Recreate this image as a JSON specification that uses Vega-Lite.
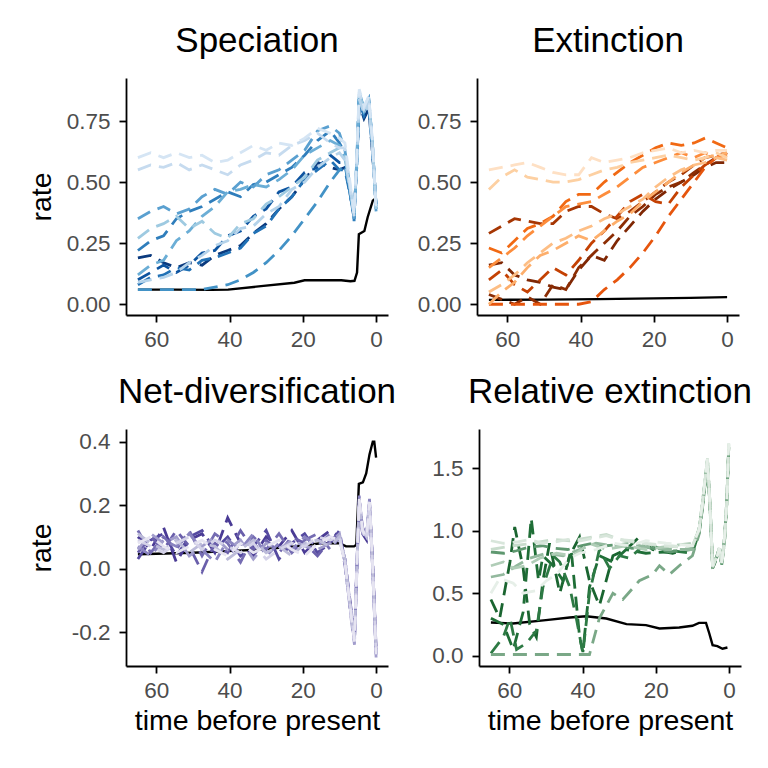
{
"$schema":"https://vega.github.io/schema/vega-lite/v6.json",
"padding":{"left":27,"top":24,"right":5,"bottom":5},
"background":"white",
"config":{
"font":"Liberation Sans",
"view":{"stroke":null},
"axis":{"grid":false,"domainColor":"black","domainWidth":1.8,"tickColor":"black","tickWidth":1.8,"tickSize":7,"labelColor":"#4d4d4d","labelFontSize":22.5,"titleFontSize":28.5,"titleFontWeight":"normal","titleColor":"black"},
"axisX":{"labelPadding":6,"titlePadding":5},
"axisY":{"labelPadding":9,"titlePadding":9.5,"minExtent":60},
"title":{"fontSize":35,"fontWeight":"normal","color":"black","offset":19,"anchor":"middle"}
},
"resolve":{"scale":{"color":"independent"}},
"vconcat":[
{"resolve":{"scale":{"color":"independent"}},"hconcat":[
{"title":"Speciation","width":262,"height":237,"data":{"name":"sp"},
"encoding":{"x":{"field":"t","type":"quantitative","scale":{"domain":[-3.25,68.25],"reverse":true,"nice":false,"zero":false},"axis":{"values":[0,20,40,60],"title":null}},
"y":{"field":"v","type":"quantitative","scale":{"domain":[-0.044,0.926],"nice":false,"zero":false},"axis":{"values":[0,0.25,0.5,0.75],"format":".2f","title":"rate"}}},
"layer":[
{"transform":[{"filter":"datum.s == 0"}],"mark":{"type":"line","color":"black","strokeWidth":2.4},"encoding":{}},
{"transform":[{"filter":"datum.s > 0"}],"mark":{"type":"line","strokeWidth":2.8,"strokeDash":[14,8]},"encoding":{"color":{"field":"s","type":"nominal","legend":null,"scale":{"domain":[1,2,3,4,5,6,7,8,9,10,11],"range":["#0b3a7e","#0d54a0","#2171b5","#2f7ebc","#4292c6","#5aa0d0","#6baed6","#9ecae1","#b5d3ea","#c6dbef","#d5e5f4"]}}}}
]},
{"title":"Extinction","width":262,"height":237,"data":{"name":"ex"},
"encoding":{"x":{"field":"t","type":"quantitative","scale":{"domain":[-3.25,68.25],"reverse":true,"nice":false,"zero":false},"axis":{"values":[0,20,40,60],"title":null}},
"y":{"field":"v","type":"quantitative","scale":{"domain":[-0.044,0.926],"nice":false,"zero":false},"axis":{"values":[0,0.25,0.5,0.75],"format":".2f","title":null}}},
"layer":[
{"transform":[{"filter":"datum.s == 0"}],"mark":{"type":"line","color":"black","strokeWidth":2.4},"encoding":{}},
{"transform":[{"filter":"datum.s > 0"}],"mark":{"type":"line","strokeWidth":2.8,"strokeDash":[14,8]},"encoding":{"color":{"field":"s","type":"nominal","legend":null,"scale":{"domain":[1,2,3,4,5,6,7,8,9,10,11],"range":["#7f2704","#8c2d04","#a63603","#c44103","#e6550d","#f16913","#fd8d3c","#fdae6b","#fdbe85","#fdd0a2","#fee0c4"]}}}}
]}
],"spacing":29},
{"resolve":{"scale":{"color":"independent"}},"hconcat":[
{"title":"Net-diversification","width":262,"height":237,"data":{"name":"nd"},
"encoding":{"x":{"field":"t","type":"quantitative","scale":{"domain":[-3.25,68.25],"reverse":true,"nice":false,"zero":false},"axis":{"values":[0,20,40,60],"title":"time before present"}},
"y":{"field":"v","type":"quantitative","scale":{"domain":[-0.307,0.44],"nice":false,"zero":false},"axis":{"values":[-0.2,0,0.2,0.4],"labelExpr":"datum.value < 0 ? '-' + format(abs(datum.value), '.1f') : format(datum.value, '.1f')","title":"rate"}}},
"layer":[
{"transform":[{"filter":"datum.s == 0"}],"mark":{"type":"line","color":"black","strokeWidth":2.4},"encoding":{}},
{"transform":[{"filter":"datum.s > 0"}],"mark":{"type":"line","strokeWidth":2.8,"strokeDash":[14,8]},"encoding":{"color":{"field":"s","type":"nominal","legend":null,"scale":{"domain":[1,2,3,4,5,6,7,8,9],"range":["#4a3b95","#554aa0","#6a5fab","#756cb2","#8a84c0","#a29dcc","#bcbbd9","#d4d2e8","#e6e4f1"]}}}}
]},
{"title":"Relative extinction","width":262,"height":237,"data":{"name":"re"},
"encoding":{"x":{"field":"t","type":"quantitative","scale":{"domain":[-3.25,68.25],"reverse":true,"nice":false,"zero":false},"axis":{"values":[0,20,40,60],"title":"time before present"}},
"y":{"field":"v","type":"quantitative","scale":{"domain":[-0.082,1.814],"nice":false,"zero":false},"axis":{"values":[0,0.5,1,1.5],"format":".1f","title":null}}},
"layer":[
{"transform":[{"filter":"datum.s == 0"}],"mark":{"type":"line","color":"black","strokeWidth":2.4},"encoding":{}},
{"transform":[{"filter":"datum.s > 0"}],"mark":{"type":"line","strokeWidth":2.8,"strokeDash":[14,8]},"encoding":{"color":{"field":"s","type":"nominal","legend":null,"scale":{"domain":[1,2,3,4,5,6,7,8,9,10],"range":["#1a6530","#1f6e37","#2d7a44","#5f9870","#7aa887","#93b99e","#b0cdb7","#c8dccc","#d8e6db","#e6efe8"]}}}}
]}
],"spacing":22}
],
"spacing":24,
"datasets":{
"sp":[
{"s":0,"t":65,"v":0.06},{"s":0,"t":55,"v":0.06},{"s":0,"t":45,"v":0.059},{"s":0,"t":40.4,"v":0.06},{"s":0,"t":31.4,"v":0.074},{"s":0,"t":22.3,"v":0.088},{"s":0,"t":19.5,"v":0.098},{"s":0,"t":9.5,"v":0.098},{"s":0,"t":7,"v":0.094},{"s":0,"t":5.9,"v":0.096},{"s":0,"t":5.2,"v":0.13},{"s":0,"t":4.7,"v":0.287},{"s":0,"t":3.2,"v":0.3},{"s":0,"t":2.3,"v":0.356},{"s":0,"t":0.9,"v":0.424},{"s":0,"t":0.4,"v":0.43},
{"s":1,"t":65,"v":0.19},{"s":1,"t":61.5,"v":0.2},{"s":1,"t":58,"v":0.17},{"s":1,"t":54.5,"v":0.15},{"s":1,"t":51,"v":0.17},{"s":1,"t":47.5,"v":0.16},{"s":1,"t":44,"v":0.2},{"s":1,"t":40.5,"v":0.22},{"s":1,"t":37,"v":0.24},{"s":1,"t":33.5,"v":0.29},{"s":1,"t":30,"v":0.33},{"s":1,"t":26.5,"v":0.39},{"s":1,"t":23,"v":0.44},{"s":1,"t":19.5,"v":0.51},{"s":1,"t":16,"v":0.58},{"s":1,"t":12.5,"v":0.56},{"s":1,"t":10,"v":0.55},{"s":1,"t":8.5,"v":0.56},{"s":1,"t":6,"v":0.38},{"s":1,"t":5.2,"v":0.58},{"s":1,"t":4.6,"v":0.82},{"s":1,"t":3.3,"v":0.76},{"s":1,"t":2,"v":0.8},{"s":1,"t":1,"v":0.62},{"s":1,"t":0,"v":0.42},
{"s":2,"t":65,"v":0.1},{"s":2,"t":61.5,"v":0.13},{"s":2,"t":58,"v":0.16},{"s":2,"t":54.5,"v":0.13},{"s":2,"t":51,"v":0.16},{"s":2,"t":47.5,"v":0.21},{"s":2,"t":44,"v":0.22},{"s":2,"t":40.5,"v":0.28},{"s":2,"t":37,"v":0.3},{"s":2,"t":33.5,"v":0.36},{"s":2,"t":30,"v":0.39},{"s":2,"t":26.5,"v":0.46},{"s":2,"t":23,"v":0.48},{"s":2,"t":19.5,"v":0.54},{"s":2,"t":16,"v":0.56},{"s":2,"t":12.5,"v":0.61},{"s":2,"t":10,"v":0.58},{"s":2,"t":8.5,"v":0.58},{"s":2,"t":6,"v":0.35},{"s":2,"t":5.2,"v":0.6},{"s":2,"t":4.6,"v":0.84},{"s":2,"t":3.3,"v":0.78},{"s":2,"t":2,"v":0.82},{"s":2,"t":1,"v":0.64},{"s":2,"t":0,"v":0.4},
{"s":3,"t":65,"v":0.08},{"s":3,"t":61.5,"v":0.11},{"s":3,"t":58,"v":0.12},{"s":3,"t":54.5,"v":0.15},{"s":3,"t":51,"v":0.14},{"s":3,"t":47.5,"v":0.18},{"s":3,"t":44,"v":0.19},{"s":3,"t":40.5,"v":0.21},{"s":3,"t":37,"v":0.23},{"s":3,"t":33.5,"v":0.29},{"s":3,"t":30,"v":0.32},{"s":3,"t":26.5,"v":0.39},{"s":3,"t":23,"v":0.44},{"s":3,"t":19.5,"v":0.51},{"s":3,"t":16,"v":0.55},{"s":3,"t":12.5,"v":0.59},{"s":3,"t":10,"v":0.55},{"s":3,"t":8.5,"v":0.55},{"s":3,"t":6,"v":0.37},{"s":3,"t":5.2,"v":0.59},{"s":3,"t":4.6,"v":0.83},{"s":3,"t":3.3,"v":0.77},{"s":3,"t":2,"v":0.81},{"s":3,"t":1,"v":0.63},{"s":3,"t":0,"v":0.41},
{"s":4,"t":65,"v":0.22},{"s":4,"t":61.5,"v":0.26},{"s":4,"t":58,"v":0.28},{"s":4,"t":54.5,"v":0.35},{"s":4,"t":51,"v":0.38},{"s":4,"t":47.5,"v":0.4},{"s":4,"t":44,"v":0.43},{"s":4,"t":40.5,"v":0.46},{"s":4,"t":37,"v":0.44},{"s":4,"t":33.5,"v":0.49},{"s":4,"t":30,"v":0.5},{"s":4,"t":26.5,"v":0.53},{"s":4,"t":23,"v":0.56},{"s":4,"t":19.5,"v":0.61},{"s":4,"t":16,"v":0.67},{"s":4,"t":12.5,"v":0.71},{"s":4,"t":10,"v":0.66},{"s":4,"t":8.5,"v":0.62},{"s":4,"t":6,"v":0.34},{"s":4,"t":5.2,"v":0.61},{"s":4,"t":4.6,"v":0.86},{"s":4,"t":3.3,"v":0.8},{"s":4,"t":2,"v":0.84},{"s":4,"t":1,"v":0.66},{"s":4,"t":0,"v":0.39},
{"s":5,"t":65,"v":0.06},{"s":5,"t":61.5,"v":0.06},{"s":5,"t":58,"v":0.06},{"s":5,"t":54.5,"v":0.06},{"s":5,"t":51,"v":0.06},{"s":5,"t":47.5,"v":0.06},{"s":5,"t":44,"v":0.07},{"s":5,"t":40.5,"v":0.08},{"s":5,"t":37,"v":0.1},{"s":5,"t":33.5,"v":0.13},{"s":5,"t":30,"v":0.17},{"s":5,"t":26.5,"v":0.22},{"s":5,"t":23,"v":0.28},{"s":5,"t":19.5,"v":0.35},{"s":5,"t":16,"v":0.42},{"s":5,"t":12.5,"v":0.5},{"s":5,"t":10,"v":0.55},{"s":5,"t":8.5,"v":0.57},{"s":5,"t":6,"v":0.36},{"s":5,"t":5.2,"v":0.6},{"s":5,"t":4.6,"v":0.85},{"s":5,"t":3.3,"v":0.79},{"s":5,"t":2,"v":0.83},{"s":5,"t":1,"v":0.65},{"s":5,"t":0,"v":0.4},
{"s":6,"t":65,"v":0.35},{"s":6,"t":61.5,"v":0.38},{"s":6,"t":58,"v":0.4},{"s":6,"t":54.5,"v":0.37},{"s":6,"t":51,"v":0.39},{"s":6,"t":47.5,"v":0.44},{"s":6,"t":44,"v":0.47},{"s":6,"t":40.5,"v":0.45},{"s":6,"t":37,"v":0.5},{"s":6,"t":33.5,"v":0.48},{"s":6,"t":30,"v":0.53},{"s":6,"t":26.5,"v":0.55},{"s":6,"t":23,"v":0.59},{"s":6,"t":19.5,"v":0.63},{"s":6,"t":16,"v":0.71},{"s":6,"t":12.5,"v":0.73},{"s":6,"t":10,"v":0.7},{"s":6,"t":8.5,"v":0.63},{"s":6,"t":6,"v":0.35},{"s":6,"t":5.2,"v":0.62},{"s":6,"t":4.6,"v":0.87},{"s":6,"t":3.3,"v":0.8},{"s":6,"t":2,"v":0.84},{"s":6,"t":1,"v":0.66},{"s":6,"t":0,"v":0.38},
{"s":7,"t":65,"v":0.12},{"s":7,"t":61.5,"v":0.16},{"s":7,"t":58,"v":0.18},{"s":7,"t":54.5,"v":0.26},{"s":7,"t":51,"v":0.3},{"s":7,"t":47.5,"v":0.36},{"s":7,"t":44,"v":0.4},{"s":7,"t":40.5,"v":0.46},{"s":7,"t":37,"v":0.47},{"s":7,"t":33.5,"v":0.49},{"s":7,"t":30,"v":0.48},{"s":7,"t":26.5,"v":0.51},{"s":7,"t":23,"v":0.55},{"s":7,"t":19.5,"v":0.61},{"s":7,"t":16,"v":0.64},{"s":7,"t":12.5,"v":0.67},{"s":7,"t":10,"v":0.65},{"s":7,"t":8.5,"v":0.6},{"s":7,"t":6,"v":0.36},{"s":7,"t":5.2,"v":0.6},{"s":7,"t":4.6,"v":0.85},{"s":7,"t":3.3,"v":0.79},{"s":7,"t":2,"v":0.83},{"s":7,"t":1,"v":0.65},{"s":7,"t":0,"v":0.4},
{"s":8,"t":65,"v":0.27},{"s":8,"t":61.5,"v":0.31},{"s":8,"t":58,"v":0.33},{"s":8,"t":54.5,"v":0.36},{"s":8,"t":51,"v":0.31},{"s":8,"t":47.5,"v":0.34},{"s":8,"t":44,"v":0.29},{"s":8,"t":40.5,"v":0.27},{"s":8,"t":37,"v":0.33},{"s":8,"t":33.5,"v":0.35},{"s":8,"t":30,"v":0.41},{"s":8,"t":26.5,"v":0.44},{"s":8,"t":23,"v":0.48},{"s":8,"t":19.5,"v":0.52},{"s":8,"t":16,"v":0.59},{"s":8,"t":12.5,"v":0.62},{"s":8,"t":10,"v":0.64},{"s":8,"t":8.5,"v":0.61},{"s":8,"t":6,"v":0.37},{"s":8,"t":5.2,"v":0.61},{"s":8,"t":4.6,"v":0.86},{"s":8,"t":3.3,"v":0.8},{"s":8,"t":2,"v":0.83},{"s":8,"t":1,"v":0.66},{"s":8,"t":0,"v":0.39},
{"s":9,"t":65,"v":0.09},{"s":9,"t":61.5,"v":0.1},{"s":9,"t":58,"v":0.11},{"s":9,"t":54.5,"v":0.13},{"s":9,"t":51,"v":0.17},{"s":9,"t":47.5,"v":0.2},{"s":9,"t":44,"v":0.24},{"s":9,"t":40.5,"v":0.26},{"s":9,"t":37,"v":0.31},{"s":9,"t":33.5,"v":0.32},{"s":9,"t":30,"v":0.37},{"s":9,"t":26.5,"v":0.4},{"s":9,"t":23,"v":0.47},{"s":9,"t":19.5,"v":0.5},{"s":9,"t":16,"v":0.56},{"s":9,"t":12.5,"v":0.6},{"s":9,"t":10,"v":0.62},{"s":9,"t":8.5,"v":0.59},{"s":9,"t":6,"v":0.38},{"s":9,"t":5.2,"v":0.6},{"s":9,"t":4.6,"v":0.84},{"s":9,"t":3.3,"v":0.78},{"s":9,"t":2,"v":0.82},{"s":9,"t":1,"v":0.64},{"s":9,"t":0,"v":0.41},
{"s":10,"t":65,"v":0.55},{"s":10,"t":61.5,"v":0.57},{"s":10,"t":58,"v":0.56},{"s":10,"t":54.5,"v":0.58},{"s":10,"t":51,"v":0.55},{"s":10,"t":47.5,"v":0.57},{"s":10,"t":44,"v":0.55},{"s":10,"t":40.5,"v":0.53},{"s":10,"t":37,"v":0.57},{"s":10,"t":33.5,"v":0.59},{"s":10,"t":30,"v":0.62},{"s":10,"t":26.5,"v":0.61},{"s":10,"t":23,"v":0.65},{"s":10,"t":19.5,"v":0.67},{"s":10,"t":16,"v":0.7},{"s":10,"t":12.5,"v":0.66},{"s":10,"t":10,"v":0.64},{"s":10,"t":8.5,"v":0.64},{"s":10,"t":6,"v":0.36},{"s":10,"t":5.2,"v":0.62},{"s":10,"t":4.6,"v":0.87},{"s":10,"t":3.3,"v":0.8},{"s":10,"t":2,"v":0.85},{"s":10,"t":1,"v":0.66},{"s":10,"t":0,"v":0.38},
{"s":11,"t":65,"v":0.6},{"s":11,"t":61.5,"v":0.62},{"s":11,"t":58,"v":0.6},{"s":11,"t":54.5,"v":0.62},{"s":11,"t":51,"v":0.6},{"s":11,"t":47.5,"v":0.61},{"s":11,"t":44,"v":0.58},{"s":11,"t":40.5,"v":0.59},{"s":11,"t":37,"v":0.62},{"s":11,"t":33.5,"v":0.65},{"s":11,"t":30,"v":0.63},{"s":11,"t":26.5,"v":0.66},{"s":11,"t":23,"v":0.65},{"s":11,"t":19.5,"v":0.68},{"s":11,"t":16,"v":0.72},{"s":11,"t":12.5,"v":0.7},{"s":11,"t":10,"v":0.68},{"s":11,"t":8.5,"v":0.66},{"s":11,"t":6,"v":0.37},{"s":11,"t":5.2,"v":0.63},{"s":11,"t":4.6,"v":0.88},{"s":11,"t":3.3,"v":0.81},{"s":11,"t":2,"v":0.85},{"s":11,"t":1,"v":0.67},{"s":11,"t":0,"v":0.39}
],
"ex":[
{"s":0,"t":65,"v":0.018},{"s":0,"t":50,"v":0.019},{"s":0,"t":35,"v":0.021},{"s":0,"t":20,"v":0.024},{"s":0,"t":10,"v":0.026},{"s":0,"t":0,"v":0.029},
{"s":1,"t":65,"v":0.16},{"s":1,"t":61.5,"v":0.17},{"s":1,"t":58,"v":0.12},{"s":1,"t":54.5,"v":0.1},{"s":1,"t":51,"v":0.09},{"s":1,"t":47.5,"v":0.07},{"s":1,"t":44,"v":0.06},{"s":1,"t":40.5,"v":0.14},{"s":1,"t":37,"v":0.2},{"s":1,"t":33.5,"v":0.18},{"s":1,"t":30,"v":0.26},{"s":1,"t":26.5,"v":0.32},{"s":1,"t":23,"v":0.38},{"s":1,"t":19.5,"v":0.43},{"s":1,"t":16,"v":0.47},{"s":1,"t":12.5,"v":0.5},{"s":1,"t":9,"v":0.53},{"s":1,"t":6,"v":0.56},{"s":1,"t":3,"v":0.58},{"s":1,"t":0,"v":0.58},
{"s":2,"t":65,"v":0.04},{"s":2,"t":61.5,"v":0.02},{"s":2,"t":58,"v":0},{"s":2,"t":54.5,"v":0.03},{"s":2,"t":51,"v":0},{"s":2,"t":47.5,"v":0.08},{"s":2,"t":44,"v":0.06},{"s":2,"t":40.5,"v":0.15},{"s":2,"t":37,"v":0.2},{"s":2,"t":33.5,"v":0.25},{"s":2,"t":30,"v":0.3},{"s":2,"t":26.5,"v":0.36},{"s":2,"t":23,"v":0.4},{"s":2,"t":19.5,"v":0.45},{"s":2,"t":16,"v":0.48},{"s":2,"t":12.5,"v":0.5},{"s":2,"t":9,"v":0.54},{"s":2,"t":6,"v":0.57},{"s":2,"t":3,"v":0.6},{"s":2,"t":0,"v":0.6},
{"s":3,"t":65,"v":0.29},{"s":3,"t":61.5,"v":0.32},{"s":3,"t":58,"v":0.35},{"s":3,"t":54.5,"v":0.34},{"s":3,"t":51,"v":0.33},{"s":3,"t":47.5,"v":0.33},{"s":3,"t":44,"v":0.38},{"s":3,"t":40.5,"v":0.4},{"s":3,"t":37,"v":0.4},{"s":3,"t":33.5,"v":0.37},{"s":3,"t":30,"v":0.35},{"s":3,"t":26.5,"v":0.38},{"s":3,"t":23,"v":0.42},{"s":3,"t":19.5,"v":0.46},{"s":3,"t":16,"v":0.5},{"s":3,"t":12.5,"v":0.53},{"s":3,"t":9,"v":0.57},{"s":3,"t":6,"v":0.6},{"s":3,"t":3,"v":0.61},{"s":3,"t":0,"v":0.62},
{"s":4,"t":65,"v":0.1},{"s":4,"t":61.5,"v":0.14},{"s":4,"t":58,"v":0.08},{"s":4,"t":54.5,"v":0.05},{"s":4,"t":51,"v":0.1},{"s":4,"t":47.5,"v":0.15},{"s":4,"t":44,"v":0.12},{"s":4,"t":40.5,"v":0.18},{"s":4,"t":37,"v":0.25},{"s":4,"t":33.5,"v":0.3},{"s":4,"t":30,"v":0.36},{"s":4,"t":26.5,"v":0.42},{"s":4,"t":23,"v":0.45},{"s":4,"t":19.5,"v":0.42},{"s":4,"t":16,"v":0.41},{"s":4,"t":12.5,"v":0.48},{"s":4,"t":9,"v":0.53},{"s":4,"t":6,"v":0.57},{"s":4,"t":3,"v":0.6},{"s":4,"t":0,"v":0.62},
{"s":5,"t":65,"v":0},{"s":5,"t":61.5,"v":0},{"s":5,"t":58,"v":0},{"s":5,"t":54.5,"v":0},{"s":5,"t":51,"v":0},{"s":5,"t":47.5,"v":0},{"s":5,"t":44,"v":0},{"s":5,"t":40.5,"v":0},{"s":5,"t":37,"v":0.01},{"s":5,"t":33.5,"v":0.06},{"s":5,"t":30,"v":0.1},{"s":5,"t":26.5,"v":0.15},{"s":5,"t":23,"v":0.21},{"s":5,"t":19.5,"v":0.28},{"s":5,"t":16,"v":0.36},{"s":5,"t":12.5,"v":0.43},{"s":5,"t":9,"v":0.5},{"s":5,"t":6,"v":0.56},{"s":5,"t":3,"v":0.6},{"s":5,"t":0,"v":0.62},
{"s":6,"t":65,"v":0.23},{"s":6,"t":61.5,"v":0.21},{"s":6,"t":58,"v":0.26},{"s":6,"t":54.5,"v":0.31},{"s":6,"t":51,"v":0.33},{"s":6,"t":47.5,"v":0.36},{"s":6,"t":44,"v":0.42},{"s":6,"t":40.5,"v":0.45},{"s":6,"t":37,"v":0.45},{"s":6,"t":33.5,"v":0.5},{"s":6,"t":30,"v":0.54},{"s":6,"t":26.5,"v":0.58},{"s":6,"t":23,"v":0.61},{"s":6,"t":19.5,"v":0.64},{"s":6,"t":16,"v":0.66},{"s":6,"t":12.5,"v":0.65},{"s":6,"t":9,"v":0.66},{"s":6,"t":6,"v":0.68},{"s":6,"t":3,"v":0.66},{"s":6,"t":0,"v":0.64},
{"s":7,"t":65,"v":0.15},{"s":7,"t":61.5,"v":0.19},{"s":7,"t":58,"v":0.23},{"s":7,"t":54.5,"v":0.28},{"s":7,"t":51,"v":0.32},{"s":7,"t":47.5,"v":0.36},{"s":7,"t":44,"v":0.4},{"s":7,"t":40.5,"v":0.41},{"s":7,"t":37,"v":0.42},{"s":7,"t":33.5,"v":0.45},{"s":7,"t":30,"v":0.48},{"s":7,"t":26.5,"v":0.52},{"s":7,"t":23,"v":0.56},{"s":7,"t":19.5,"v":0.58},{"s":7,"t":16,"v":0.6},{"s":7,"t":12.5,"v":0.62},{"s":7,"t":9,"v":0.6},{"s":7,"t":6,"v":0.62},{"s":7,"t":3,"v":0.6},{"s":7,"t":0,"v":0.61},
{"s":8,"t":65,"v":0},{"s":8,"t":61.5,"v":0.05},{"s":8,"t":58,"v":0.09},{"s":8,"t":54.5,"v":0.15},{"s":8,"t":51,"v":0.2},{"s":8,"t":47.5,"v":0.22},{"s":8,"t":44,"v":0.25},{"s":8,"t":40.5,"v":0.28},{"s":8,"t":37,"v":0.26},{"s":8,"t":33.5,"v":0.3},{"s":8,"t":30,"v":0.34},{"s":8,"t":26.5,"v":0.37},{"s":8,"t":23,"v":0.42},{"s":8,"t":19.5,"v":0.46},{"s":8,"t":16,"v":0.5},{"s":8,"t":12.5,"v":0.54},{"s":8,"t":9,"v":0.57},{"s":8,"t":6,"v":0.6},{"s":8,"t":3,"v":0.61},{"s":8,"t":0,"v":0.62},
{"s":9,"t":65,"v":0.05},{"s":9,"t":61.5,"v":0.08},{"s":9,"t":58,"v":0.12},{"s":9,"t":54.5,"v":0.17},{"s":9,"t":51,"v":0.21},{"s":9,"t":47.5,"v":0.25},{"s":9,"t":44,"v":0.27},{"s":9,"t":40.5,"v":0.3},{"s":9,"t":37,"v":0.32},{"s":9,"t":33.5,"v":0.35},{"s":9,"t":30,"v":0.37},{"s":9,"t":26.5,"v":0.4},{"s":9,"t":23,"v":0.43},{"s":9,"t":19.5,"v":0.48},{"s":9,"t":16,"v":0.52},{"s":9,"t":12.5,"v":0.55},{"s":9,"t":9,"v":0.57},{"s":9,"t":6,"v":0.58},{"s":9,"t":3,"v":0.6},{"s":9,"t":0,"v":0.59},
{"s":10,"t":65,"v":0.47},{"s":10,"t":61.5,"v":0.52},{"s":10,"t":58,"v":0.55},{"s":10,"t":54.5,"v":0.52},{"s":10,"t":51,"v":0.51},{"s":10,"t":47.5,"v":0.5},{"s":10,"t":44,"v":0.5},{"s":10,"t":40.5,"v":0.51},{"s":10,"t":37,"v":0.53},{"s":10,"t":33.5,"v":0.55},{"s":10,"t":30,"v":0.56},{"s":10,"t":26.5,"v":0.58},{"s":10,"t":23,"v":0.59},{"s":10,"t":19.5,"v":0.6},{"s":10,"t":16,"v":0.61},{"s":10,"t":12.5,"v":0.6},{"s":10,"t":9,"v":0.59},{"s":10,"t":6,"v":0.6},{"s":10,"t":3,"v":0.62},{"s":10,"t":0,"v":0.6},
{"s":11,"t":65,"v":0.55},{"s":11,"t":61.5,"v":0.56},{"s":11,"t":58,"v":0.57},{"s":11,"t":54.5,"v":0.58},{"s":11,"t":51,"v":0.56},{"s":11,"t":47.5,"v":0.54},{"s":11,"t":44,"v":0.53},{"s":11,"t":40.5,"v":0.53},{"s":11,"t":37,"v":0.6},{"s":11,"t":33.5,"v":0.58},{"s":11,"t":30,"v":0.59},{"s":11,"t":26.5,"v":0.6},{"s":11,"t":23,"v":0.62},{"s":11,"t":19.5,"v":0.63},{"s":11,"t":16,"v":0.64},{"s":11,"t":12.5,"v":0.62},{"s":11,"t":9,"v":0.63},{"s":11,"t":6,"v":0.62},{"s":11,"t":3,"v":0.63},{"s":11,"t":0,"v":0.63}
],
"nd":[
{"s":0,"t":65,"v":0.045},{"s":0,"t":50,"v":0.05},{"s":0,"t":40.5,"v":0.055},{"s":0,"t":31.4,"v":0.06},{"s":0,"t":22.3,"v":0.07},{"s":0,"t":15,"v":0.08},{"s":0,"t":10,"v":0.08},{"s":0,"t":8.2,"v":0.07},{"s":0,"t":6,"v":0.07},{"s":0,"t":5.4,"v":0.075},{"s":0,"t":4.7,"v":0.267},{"s":0,"t":3.6,"v":0.272},{"s":0,"t":2.7,"v":0.3},{"s":0,"t":1.8,"v":0.36},{"s":0,"t":0.9,"v":0.4},{"s":0,"t":0.5,"v":0.4},{"s":0,"t":0,"v":0.35},
{"s":1,"t":65,"v":0.1},{"s":1,"t":61.5,"v":0.06},{"s":1,"t":58,"v":0.13},{"s":1,"t":54.5,"v":0.02},{"s":1,"t":51,"v":0.09},{"s":1,"t":47.5,"v":0.11},{"s":1,"t":44,"v":0.05},{"s":1,"t":40.5,"v":0.16},{"s":1,"t":37,"v":0.08},{"s":1,"t":33.5,"v":0.04},{"s":1,"t":30,"v":0.1},{"s":1,"t":26.5,"v":0.07},{"s":1,"t":23,"v":0.12},{"s":1,"t":19.5,"v":0.05},{"s":1,"t":16,"v":0.09},{"s":1,"t":12.5,"v":0.12},{"s":1,"t":10,"v":0.1},{"s":1,"t":8.5,"v":0.03},{"s":1,"t":6.8,"v":-0.13},{"s":1,"t":5.9,"v":-0.21},{"s":1,"t":5.2,"v":0.03},{"s":1,"t":4.6,"v":0.21},{"s":1,"t":3.7,"v":0.11},{"s":1,"t":2.6,"v":0.09},{"s":1,"t":1.8,"v":0.2},{"s":1,"t":0.9,"v":0.01},{"s":1,"t":0,"v":-0.25},
{"s":2,"t":65,"v":0.03},{"s":2,"t":61.5,"v":0.09},{"s":2,"t":58,"v":0.11},{"s":2,"t":54.5,"v":0.04},{"s":2,"t":51,"v":0.1},{"s":2,"t":47.5,"v":0.12},{"s":2,"t":44,"v":0.06},{"s":2,"t":40.5,"v":0.1},{"s":2,"t":37,"v":0.04},{"s":2,"t":33.5,"v":0.07},{"s":2,"t":30,"v":0.12},{"s":2,"t":26.5,"v":0.03},{"s":2,"t":23,"v":0.08},{"s":2,"t":19.5,"v":0.11},{"s":2,"t":16,"v":0.05},{"s":2,"t":12.5,"v":0.08},{"s":2,"t":10,"v":0.12},{"s":2,"t":8.5,"v":0.02},{"s":2,"t":6.8,"v":-0.14},{"s":2,"t":5.9,"v":-0.22},{"s":2,"t":5.2,"v":0.02},{"s":2,"t":4.6,"v":0.22},{"s":2,"t":3.7,"v":0.12},{"s":2,"t":2.6,"v":0.1},{"s":2,"t":1.8,"v":0.21},{"s":2,"t":0.9,"v":0},{"s":2,"t":0,"v":-0.26},
{"s":3,"t":65,"v":0.05},{"s":3,"t":61.5,"v":0.1},{"s":3,"t":58,"v":0.06},{"s":3,"t":54.5,"v":0.12},{"s":3,"t":51,"v":0.07},{"s":3,"t":47.5,"v":-0.01},{"s":3,"t":44,"v":0.08},{"s":3,"t":40.5,"v":0.05},{"s":3,"t":37,"v":0.12},{"s":3,"t":33.5,"v":0.06},{"s":3,"t":30,"v":0.09},{"s":3,"t":26.5,"v":0.05},{"s":3,"t":23,"v":0.1},{"s":3,"t":19.5,"v":0.08},{"s":3,"t":16,"v":0.04},{"s":3,"t":12.5,"v":0.09},{"s":3,"t":10,"v":0.11},{"s":3,"t":8.5,"v":0.01},{"s":3,"t":6.8,"v":-0.15},{"s":3,"t":5.9,"v":-0.23},{"s":3,"t":5.2,"v":0.01},{"s":3,"t":4.6,"v":0.22},{"s":3,"t":3.7,"v":0.13},{"s":3,"t":2.6,"v":0.1},{"s":3,"t":1.8,"v":0.21},{"s":3,"t":0.9,"v":-0.01},{"s":3,"t":0,"v":-0.27},
{"s":4,"t":65,"v":0.12},{"s":4,"t":61.5,"v":0.05},{"s":4,"t":58,"v":0.1},{"s":4,"t":54.5,"v":0.06},{"s":4,"t":51,"v":0.12},{"s":4,"t":47.5,"v":0.04},{"s":4,"t":44,"v":0.11},{"s":4,"t":40.5,"v":0.08},{"s":4,"t":37,"v":0.02},{"s":4,"t":33.5,"v":0.1},{"s":4,"t":30,"v":0.06},{"s":4,"t":26.5,"v":0.11},{"s":4,"t":23,"v":0.05},{"s":4,"t":19.5,"v":0.09},{"s":4,"t":16,"v":0.11},{"s":4,"t":12.5,"v":0.06},{"s":4,"t":10,"v":0.1},{"s":4,"t":8.5,"v":0.02},{"s":4,"t":6.8,"v":-0.15},{"s":4,"t":5.9,"v":-0.22},{"s":4,"t":5.2,"v":0.02},{"s":4,"t":4.6,"v":0.21},{"s":4,"t":3.7,"v":0.12},{"s":4,"t":2.6,"v":0.11},{"s":4,"t":1.8,"v":0.2},{"s":4,"t":0.9,"v":0},{"s":4,"t":0,"v":-0.26},
{"s":5,"t":65,"v":0.07},{"s":5,"t":61.5,"v":0.04},{"s":5,"t":58,"v":0.09},{"s":5,"t":54.5,"v":0.07},{"s":5,"t":51,"v":0.11},{"s":5,"t":47.5,"v":0.06},{"s":5,"t":44,"v":0.02},{"s":5,"t":40.5,"v":0.09},{"s":5,"t":37,"v":0.06},{"s":5,"t":33.5,"v":0.11},{"s":5,"t":30,"v":0.04},{"s":5,"t":26.5,"v":0.08},{"s":5,"t":23,"v":0.06},{"s":5,"t":19.5,"v":0.1},{"s":5,"t":16,"v":0.07},{"s":5,"t":12.5,"v":0.11},{"s":5,"t":10,"v":0.09},{"s":5,"t":8.5,"v":0.03},{"s":5,"t":6.8,"v":-0.14},{"s":5,"t":5.9,"v":-0.23},{"s":5,"t":5.2,"v":0.02},{"s":5,"t":4.6,"v":0.23},{"s":5,"t":3.7,"v":0.12},{"s":5,"t":2.6,"v":0.1},{"s":5,"t":1.8,"v":0.22},{"s":5,"t":0.9,"v":0},{"s":5,"t":0,"v":-0.27},
{"s":6,"t":65,"v":0.06},{"s":6,"t":61.5,"v":0.11},{"s":6,"t":58,"v":0.08},{"s":6,"t":54.5,"v":0.1},{"s":6,"t":51,"v":0.04},{"s":6,"t":47.5,"v":0.07},{"s":6,"t":44,"v":0.1},{"s":6,"t":40.5,"v":0.06},{"s":6,"t":37,"v":0.09},{"s":6,"t":33.5,"v":0.03},{"s":6,"t":30,"v":0.08},{"s":6,"t":26.5,"v":0.06},{"s":6,"t":23,"v":0.09},{"s":6,"t":19.5,"v":0.07},{"s":6,"t":16,"v":0.06},{"s":6,"t":12.5,"v":0.08},{"s":6,"t":10,"v":0.11},{"s":6,"t":8.5,"v":0.02},{"s":6,"t":6.8,"v":-0.16},{"s":6,"t":5.9,"v":-0.24},{"s":6,"t":5.2,"v":0.01},{"s":6,"t":4.6,"v":0.22},{"s":6,"t":3.7,"v":0.11},{"s":6,"t":2.6,"v":0.1},{"s":6,"t":1.8,"v":0.21},{"s":6,"t":0.9,"v":-0.01},{"s":6,"t":0,"v":-0.28},
{"s":7,"t":65,"v":0.11},{"s":7,"t":61.5,"v":0.08},{"s":7,"t":58,"v":0.06},{"s":7,"t":54.5,"v":0.09},{"s":7,"t":51,"v":0.05},{"s":7,"t":47.5,"v":0.08},{"s":7,"t":44,"v":0.07},{"s":7,"t":40.5,"v":0.03},{"s":7,"t":37,"v":0.06},{"s":7,"t":33.5,"v":0.09},{"s":7,"t":30,"v":0.05},{"s":7,"t":26.5,"v":0.07},{"s":7,"t":23,"v":0.04},{"s":7,"t":19.5,"v":0.08},{"s":7,"t":16,"v":0.09},{"s":7,"t":12.5,"v":0.07},{"s":7,"t":10,"v":0.1},{"s":7,"t":8.5,"v":0.03},{"s":7,"t":6.8,"v":-0.15},{"s":7,"t":5.9,"v":-0.23},{"s":7,"t":5.2,"v":0.02},{"s":7,"t":4.6,"v":0.22},{"s":7,"t":3.7,"v":0.12},{"s":7,"t":2.6,"v":0.1},{"s":7,"t":1.8,"v":0.21},{"s":7,"t":0.9,"v":0},{"s":7,"t":0,"v":-0.27},
{"s":8,"t":65,"v":0.09},{"s":8,"t":61.5,"v":0.07},{"s":8,"t":58,"v":0.05},{"s":8,"t":54.5,"v":0.08},{"s":8,"t":51,"v":0.1},{"s":8,"t":47.5,"v":0.06},{"s":8,"t":44,"v":0.09},{"s":8,"t":40.5,"v":0.07},{"s":8,"t":37,"v":0.05},{"s":8,"t":33.5,"v":0.08},{"s":8,"t":30,"v":0.03},{"s":8,"t":26.5,"v":0.06},{"s":8,"t":23,"v":0.08},{"s":8,"t":19.5,"v":0.07},{"s":8,"t":16,"v":0.1},{"s":8,"t":12.5,"v":0.09},{"s":8,"t":10,"v":0.1},{"s":8,"t":8.5,"v":0.02},{"s":8,"t":6.8,"v":-0.14},{"s":8,"t":5.9,"v":-0.22},{"s":8,"t":5.2,"v":0.03},{"s":8,"t":4.6,"v":0.22},{"s":8,"t":3.7,"v":0.12},{"s":8,"t":2.6,"v":0.09},{"s":8,"t":1.8,"v":0.21},{"s":8,"t":0.9,"v":0},{"s":8,"t":0,"v":-0.26},
{"s":9,"t":65,"v":0.08},{"s":9,"t":61.5,"v":0.1},{"s":9,"t":58,"v":0.07},{"s":9,"t":54.5,"v":0.05},{"s":9,"t":51,"v":0.07},{"s":9,"t":47.5,"v":0.09},{"s":9,"t":44,"v":0.06},{"s":9,"t":40.5,"v":0.04},{"s":9,"t":37,"v":0.08},{"s":9,"t":33.5,"v":0.05},{"s":9,"t":30,"v":0.07},{"s":9,"t":26.5,"v":0.09},{"s":9,"t":23,"v":0.06},{"s":9,"t":19.5,"v":0.04},{"s":9,"t":16,"v":0.08},{"s":9,"t":12.5,"v":0.1},{"s":9,"t":10,"v":0.09},{"s":9,"t":8.5,"v":0.02},{"s":9,"t":6.8,"v":-0.15},{"s":9,"t":5.9,"v":-0.23},{"s":9,"t":5.2,"v":0.02},{"s":9,"t":4.6,"v":0.22},{"s":9,"t":3.7,"v":0.12},{"s":9,"t":2.6,"v":0.1},{"s":9,"t":1.8,"v":0.21},{"s":9,"t":0.9,"v":0},{"s":9,"t":0,"v":-0.27}
],
"re":[
{"s":0,"t":65,"v":0.266},{"s":0,"t":59,"v":0.258},{"s":0,"t":50,"v":0.285},{"s":0,"t":43.5,"v":0.306},{"s":0,"t":39,"v":0.316},{"s":0,"t":33.5,"v":0.298},{"s":0,"t":28,"v":0.253},{"s":0,"t":22.7,"v":0.245},{"s":0,"t":19,"v":0.218},{"s":0,"t":13.6,"v":0.226},{"s":0,"t":10,"v":0.24},{"s":0,"t":8.2,"v":0.263},{"s":0,"t":6.3,"v":0.263},{"s":0,"t":5.4,"v":0.178},{"s":0,"t":4.5,"v":0.085},{"s":0,"t":3.2,"v":0.077},{"s":0,"t":1.8,"v":0.056},{"s":0,"t":0.45,"v":0.066},
{"s":1,"t":65,"v":0.45},{"s":1,"t":62.6,"v":0.3},{"s":1,"t":59.8,"v":0.75},{"s":1,"t":58.5,"v":1.03},{"s":1,"t":56.2,"v":0.7},{"s":1,"t":54.4,"v":0.25},{"s":1,"t":52.6,"v":0.15},{"s":1,"t":50.8,"v":0.6},{"s":1,"t":49,"v":0.9},{"s":1,"t":46.2,"v":0.5},{"s":1,"t":43.5,"v":0.8},{"s":1,"t":40.8,"v":0.95},{"s":1,"t":38.1,"v":0.6},{"s":1,"t":35.4,"v":0.4},{"s":1,"t":31.7,"v":0.8},{"s":1,"t":28.1,"v":0.85},{"s":1,"t":24.5,"v":0.95},{"s":1,"t":20.9,"v":0.85},{"s":1,"t":15.4,"v":0.82},{"s":1,"t":10,"v":0.86},{"s":1,"t":8.2,"v":0.98},{"s":1,"t":7.3,"v":1.18},{"s":1,"t":5.9,"v":1.55},{"s":1,"t":5.2,"v":1.18},{"s":1,"t":4.5,"v":0.7},{"s":1,"t":3.2,"v":0.79},{"s":1,"t":2.7,"v":0.84},{"s":1,"t":2,"v":0.72},{"s":1,"t":1.2,"v":0.93},{"s":1,"t":0.6,"v":1.23},{"s":1,"t":0.1,"v":1.66},
{"s":2,"t":65,"v":0.3},{"s":2,"t":61.6,"v":0.25},{"s":2,"t":58.9,"v":0.05},{"s":2,"t":56.2,"v":0.35},{"s":2,"t":54,"v":1.1},{"s":2,"t":52,"v":0.6},{"s":2,"t":50.8,"v":0.8},{"s":2,"t":48,"v":0.72},{"s":2,"t":45.3,"v":0.6},{"s":2,"t":43.1,"v":0.85},{"s":2,"t":40.8,"v":0.15},{"s":2,"t":39.9,"v":0.03},{"s":2,"t":38.1,"v":0.55},{"s":2,"t":35.4,"v":0.8},{"s":2,"t":31.7,"v":0.75},{"s":2,"t":28.1,"v":0.85},{"s":2,"t":22.7,"v":0.82},{"s":2,"t":17.2,"v":0.83},{"s":2,"t":10,"v":0.85},{"s":2,"t":8.2,"v":1},{"s":2,"t":7.3,"v":1.2},{"s":2,"t":5.9,"v":1.56},{"s":2,"t":5.2,"v":1.2},{"s":2,"t":4.5,"v":0.72},{"s":2,"t":3.2,"v":0.8},{"s":2,"t":2.7,"v":0.85},{"s":2,"t":2,"v":0.74},{"s":2,"t":1.2,"v":0.95},{"s":2,"t":0.6,"v":1.25},{"s":2,"t":0.1,"v":1.67},
{"s":3,"t":65,"v":0.02},{"s":3,"t":61.6,"v":0.15},{"s":3,"t":59.8,"v":0.3},{"s":3,"t":58,"v":0.05},{"s":3,"t":55.3,"v":0.1},{"s":3,"t":52.6,"v":0.2},{"s":3,"t":50.8,"v":0.55},{"s":3,"t":48,"v":0.8},{"s":3,"t":46.2,"v":0.75},{"s":3,"t":43.5,"v":0.55},{"s":3,"t":41.7,"v":0.3},{"s":3,"t":39.9,"v":0.02},{"s":3,"t":38.1,"v":0.5},{"s":3,"t":35.4,"v":0.85},{"s":3,"t":32.6,"v":0.7},{"s":3,"t":29.9,"v":0.8},{"s":3,"t":27.2,"v":0.78},{"s":3,"t":22.7,"v":0.9},{"s":3,"t":18.1,"v":0.85},{"s":3,"t":10,"v":0.82},{"s":3,"t":8.2,"v":0.99},{"s":3,"t":7.3,"v":1.19},{"s":3,"t":5.9,"v":1.54},{"s":3,"t":5.2,"v":1.19},{"s":3,"t":4.5,"v":0.71},{"s":3,"t":3.2,"v":0.81},{"s":3,"t":2.7,"v":0.86},{"s":3,"t":2,"v":0.73},{"s":3,"t":1.2,"v":0.94},{"s":3,"t":0.6,"v":1.24},{"s":3,"t":0.1,"v":1.66},
{"s":4,"t":65,"v":0.83},{"s":4,"t":61.5,"v":0.82},{"s":4,"t":58,"v":0.84},{"s":4,"t":54.5,"v":0.87},{"s":4,"t":51,"v":0.88},{"s":4,"t":47.5,"v":0.86},{"s":4,"t":44,"v":0.85},{"s":4,"t":40.5,"v":0.88},{"s":4,"t":37,"v":0.9},{"s":4,"t":33.5,"v":0.88},{"s":4,"t":30,"v":0.89},{"s":4,"t":26.5,"v":0.86},{"s":4,"t":23,"v":0.87},{"s":4,"t":19.5,"v":0.85},{"s":4,"t":16,"v":0.83},{"s":4,"t":12.5,"v":0.85},{"s":4,"t":10,"v":0.86},{"s":4,"t":8.2,"v":1.01},{"s":4,"t":7.3,"v":1.21},{"s":4,"t":5.9,"v":1.57},{"s":4,"t":5.2,"v":1.21},{"s":4,"t":4.5,"v":0.73},{"s":4,"t":3.2,"v":0.8},{"s":4,"t":2.7,"v":0.85},{"s":4,"t":2,"v":0.75},{"s":4,"t":1.2,"v":0.96},{"s":4,"t":0.6,"v":1.26},{"s":4,"t":0.1,"v":1.68},
{"s":5,"t":65,"v":0.01},{"s":5,"t":58.9,"v":0.01},{"s":5,"t":50,"v":0.01},{"s":5,"t":45,"v":0.01},{"s":5,"t":40,"v":0.01},{"s":5,"t":38.1,"v":0.01},{"s":5,"t":35.4,"v":0.3},{"s":5,"t":31.7,"v":0.5},{"s":5,"t":29,"v":0.45},{"s":5,"t":24.5,"v":0.6},{"s":5,"t":20.9,"v":0.65},{"s":5,"t":19,"v":0.72},{"s":5,"t":16.3,"v":0.65},{"s":5,"t":13.6,"v":0.72},{"s":5,"t":10,"v":0.8},{"s":5,"t":8.2,"v":0.97},{"s":5,"t":7.3,"v":1.17},{"s":5,"t":5.9,"v":1.55},{"s":5,"t":5.2,"v":1.18},{"s":5,"t":4.5,"v":0.7},{"s":5,"t":3.2,"v":0.79},{"s":5,"t":2.7,"v":0.84},{"s":5,"t":2,"v":0.73},{"s":5,"t":1.2,"v":0.94},{"s":5,"t":0.6,"v":1.24},{"s":5,"t":0.1,"v":1.67},
{"s":6,"t":65,"v":0.63},{"s":6,"t":61.6,"v":0.65},{"s":6,"t":58,"v":0.72},{"s":6,"t":54.4,"v":0.78},{"s":6,"t":49.9,"v":0.82},{"s":6,"t":45.3,"v":0.8},{"s":6,"t":40.8,"v":0.85},{"s":6,"t":36.3,"v":0.9},{"s":6,"t":31.7,"v":0.88},{"s":6,"t":27.2,"v":0.9},{"s":6,"t":22.7,"v":0.87},{"s":6,"t":17.2,"v":0.85},{"s":6,"t":10,"v":0.85},{"s":6,"t":8.2,"v":1.02},{"s":6,"t":7.3,"v":1.22},{"s":6,"t":5.9,"v":1.58},{"s":6,"t":5.2,"v":1.21},{"s":6,"t":4.5,"v":0.73},{"s":6,"t":3.2,"v":0.81},{"s":6,"t":2.7,"v":0.86},{"s":6,"t":2,"v":0.75},{"s":6,"t":1.2,"v":0.96},{"s":6,"t":0.6,"v":1.26},{"s":6,"t":0.1,"v":1.69},
{"s":7,"t":65,"v":0.72},{"s":7,"t":61.6,"v":0.75},{"s":7,"t":58.9,"v":0.7},{"s":7,"t":55.3,"v":0.72},{"s":7,"t":51.7,"v":0.78},{"s":7,"t":47.1,"v":0.82},{"s":7,"t":42.5,"v":0.8},{"s":7,"t":38.1,"v":0.9},{"s":7,"t":33.5,"v":0.85},{"s":7,"t":28.1,"v":0.88},{"s":7,"t":22.7,"v":0.85},{"s":7,"t":15.4,"v":0.88},{"s":7,"t":10,"v":0.9},{"s":7,"t":8.2,"v":1},{"s":7,"t":7.3,"v":1.2},{"s":7,"t":5.9,"v":1.57},{"s":7,"t":5.2,"v":1.2},{"s":7,"t":4.5,"v":0.72},{"s":7,"t":3.2,"v":0.8},{"s":7,"t":2.7,"v":0.85},{"s":7,"t":2,"v":0.74},{"s":7,"t":1.2,"v":0.95},{"s":7,"t":0.6,"v":1.25},{"s":7,"t":0.1,"v":1.68},
{"s":8,"t":65,"v":0.85},{"s":8,"t":59,"v":0.88},{"s":8,"t":53.5,"v":0.9},{"s":8,"t":48,"v":0.93},{"s":8,"t":43.5,"v":0.92},{"s":8,"t":37.2,"v":0.95},{"s":8,"t":33.5,"v":0.97},{"s":8,"t":29.9,"v":0.93},{"s":8,"t":24.5,"v":0.9},{"s":8,"t":19,"v":0.88},{"s":8,"t":13.6,"v":0.87},{"s":8,"t":10,"v":0.88},{"s":8,"t":8.2,"v":1.01},{"s":8,"t":7.3,"v":1.21},{"s":8,"t":5.9,"v":1.58},{"s":8,"t":5.2,"v":1.21},{"s":8,"t":4.5,"v":0.72},{"s":8,"t":3.2,"v":0.81},{"s":8,"t":2.7,"v":0.86},{"s":8,"t":2,"v":0.74},{"s":8,"t":1.2,"v":0.95},{"s":8,"t":0.6,"v":1.26},{"s":8,"t":0.1,"v":1.69},
{"s":9,"t":65,"v":0.92},{"s":9,"t":61.5,"v":0.9},{"s":9,"t":58,"v":0.91},{"s":9,"t":54.5,"v":0.93},{"s":9,"t":51,"v":0.9},{"s":9,"t":47.5,"v":0.91},{"s":9,"t":44,"v":0.93},{"s":9,"t":40.5,"v":0.92},{"s":9,"t":37,"v":0.94},{"s":9,"t":33.5,"v":0.96},{"s":9,"t":30,"v":0.93},{"s":9,"t":26.5,"v":0.92},{"s":9,"t":23,"v":0.9},{"s":9,"t":19.5,"v":0.89},{"s":9,"t":16,"v":0.88},{"s":9,"t":12.5,"v":0.87},{"s":9,"t":10,"v":0.88},{"s":9,"t":8.2,"v":1},{"s":9,"t":7.3,"v":1.21},{"s":9,"t":5.9,"v":1.57},{"s":9,"t":5.2,"v":1.2},{"s":9,"t":4.5,"v":0.71},{"s":9,"t":3.2,"v":0.8},{"s":9,"t":2.7,"v":0.85},{"s":9,"t":2,"v":0.73},{"s":9,"t":1.2,"v":0.95},{"s":9,"t":0.6,"v":1.25},{"s":9,"t":0.1,"v":1.7},
{"s":10,"t":65,"v":0.5},{"s":10,"t":62.6,"v":0.62},{"s":10,"t":58.9,"v":0.58},{"s":10,"t":56.2,"v":0.5},{"s":10,"t":52.6,"v":0.52},{"s":10,"t":49.9,"v":0.6},{"s":10,"t":47.1,"v":0.65},{"s":10,"t":43.5,"v":0.78},{"s":10,"t":40.8,"v":0.82},{"s":10,"t":36.3,"v":0.85},{"s":10,"t":31.7,"v":0.9},{"s":10,"t":27.2,"v":0.88},{"s":10,"t":22.7,"v":0.92},{"s":10,"t":17.2,"v":0.9},{"s":10,"t":10,"v":0.88},{"s":10,"t":8.2,"v":1.01},{"s":10,"t":7.3,"v":1.22},{"s":10,"t":5.9,"v":1.58},{"s":10,"t":5.2,"v":1.21},{"s":10,"t":4.5,"v":0.72},{"s":10,"t":3.2,"v":0.8},{"s":10,"t":2.7,"v":0.86},{"s":10,"t":2,"v":0.74},{"s":10,"t":1.2,"v":0.96},{"s":10,"t":0.6,"v":1.26},{"s":10,"t":0.1,"v":1.7}
]
}
}
